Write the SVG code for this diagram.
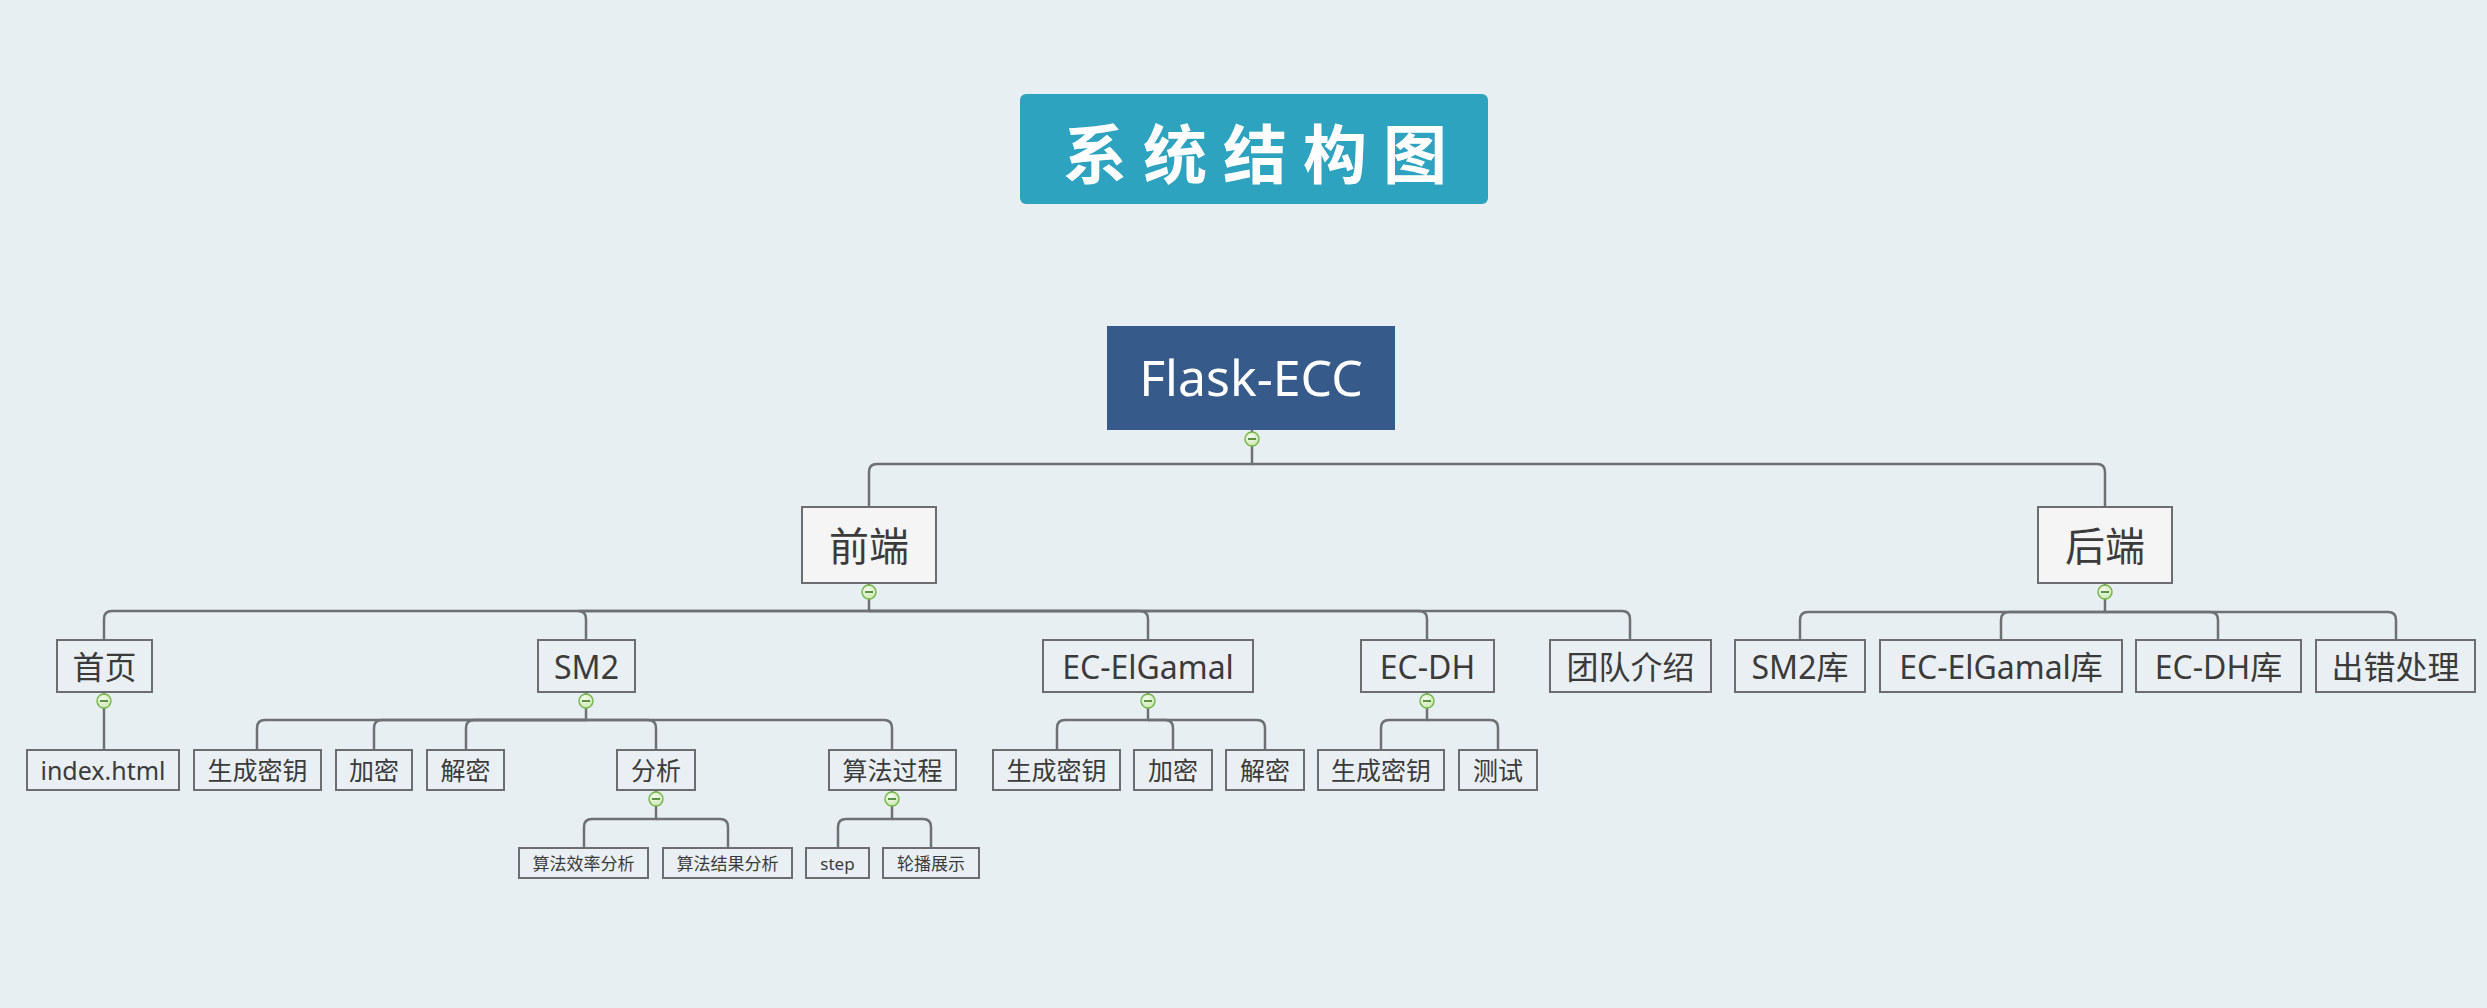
<svg xmlns="http://www.w3.org/2000/svg" width="2487" height="1008" viewBox="0 0 2487 1008">
<defs>
<style>
.bg{fill:#e8eff3}
.n{fill:#e9eff3;stroke:#6b6d70;stroke-width:2}
.n2{fill:#f5f5f5;stroke:#6b6d70;stroke-width:2}
.t{font-family:"Noto Sans","Noto Sans CJK SC",sans-serif;fill:#3b3b3b;text-anchor:middle;dominant-baseline:central}
.f40{font-size:40px}
.f32{font-size:32px}
.f25{font-size:25px}
.f17{font-size:17px}
.c path{fill:none;stroke:#6e7174;stroke-width:2.5}
.tog circle{fill:url(#g);stroke:#74b648;stroke-width:1.4}
.tog line{stroke:#3a7a20;stroke-width:1.6}
</style>
<radialGradient id="g" cx="0.4" cy="0.35" r="0.7">
<stop offset="0" stop-color="#f6fbf0"/>
<stop offset="1" stop-color="#c9e6ad"/>
</radialGradient>
</defs>
<rect class="bg" x="0" y="0" width="2487" height="1008"/>

<g id="title">
<rect x="1020" y="94" width="468" height="110" rx="6" fill="#2ea3bf"/>
<text x="1263" y="150" font-family="Noto Sans CJK SC,sans-serif" font-size="64" font-weight="bold" fill="#ffffff" text-anchor="middle" dominant-baseline="central" letter-spacing="16">系统结构图</text>
</g>

<g id="connectors" class="c">
<path d="M1252,430 V464 H877 Q869,464 869,472 V507"/>
<path d="M1252,464 H2097 Q2105,464 2105,472 V507"/>
<path d="M869,583 V611 H112 Q104,611 104,619 V640"/>
<path d="M869,611 H578 Q586,611 586,619 V640"/>
<path d="M869,611 H1140 Q1148,611 1148,619 V640"/>
<path d="M869,611 H1419 Q1427,611 1427,619 V640"/>
<path d="M869,611 H1622 Q1630,611 1630,619 V640"/>
<path d="M2105,583 V612 H1808 Q1800,612 1800,620 V640"/>
<path d="M2105,612 H2009 Q2001,612 2001,620 V640"/>
<path d="M2105,612 H2210 Q2218,612 2218,620 V640"/>
<path d="M2105,612 H2388 Q2396,612 2396,620 V640"/>
<path d="M104,692 V750"/>
<path d="M586,692 V720 H265 Q257,720 257,728 V750"/>
<path d="M586,720 H382 Q374,720 374,728 V750"/>
<path d="M586,720 H474 Q466,720 466,728 V750"/>
<path d="M586,720 H648 Q656,720 656,728 V750"/>
<path d="M586,720 H884 Q892,720 892,728 V750"/>
<path d="M1148,692 V720 H1065 Q1057,720 1057,728 V750"/>
<path d="M1148,720 H1165 Q1173,720 1173,728 V750"/>
<path d="M1148,720 H1257 Q1265,720 1265,728 V750"/>
<path d="M1427,692 V720 H1389 Q1381,720 1381,728 V750"/>
<path d="M1427,720 H1490 Q1498,720 1498,728 V750"/>
<path d="M656,790 V819 H592 Q584,819 584,827 V848"/>
<path d="M656,819 H720 Q728,819 728,827 V848"/>
<path d="M892,790 V819 H846 Q838,819 838,827 V848"/>
<path d="M892,819 H923 Q931,819 931,827 V848"/>
</g>

<g id="root">
<rect x="1107" y="326" width="288" height="104" fill="#365b8a"/>
<text x="1251" y="377" font-family="Noto Sans,sans-serif" font-size="50" fill="#ffffff" text-anchor="middle" dominant-baseline="central">Flask-ECC</text>
</g>

<g id="qianduan"><rect class="n2" x="802" y="507" width="134" height="76"/><text class="t f40" x="869" y="545">前端</text></g>
<g id="houduan"><rect class="n2" x="2038" y="507" width="134" height="76"/><text class="t f40" x="2105" y="545">后端</text></g>

<g id="shouye"><rect class="n" x="57" y="640" width="95" height="52"/><text class="t f32" x="104.5" y="666">首页</text></g>
<g id="sm2"><rect class="n" x="538" y="640" width="97" height="52"/><text class="t f32" x="586.5" y="666">SM2</text></g>
<g id="elgamal"><rect class="n" x="1043" y="640" width="210" height="52"/><text class="t f32" x="1148" y="666">EC-ElGamal</text></g>
<g id="ecdh"><rect class="n" x="1361" y="640" width="133" height="52"/><text class="t f32" x="1427.5" y="666">EC-DH</text></g>
<g id="team"><rect class="n" x="1550" y="640" width="161" height="52"/><text class="t f32" x="1630.5" y="666">团队介绍</text></g>

<g id="sm2lib"><rect class="n" x="1735" y="640" width="130" height="52"/><text class="t f32" x="1800" y="666">SM2库</text></g>
<g id="elgamallib"><rect class="n" x="1880" y="640" width="242" height="52"/><text class="t f32" x="2001" y="666">EC-ElGamal库</text></g>
<g id="ecdhlib"><rect class="n" x="2136" y="640" width="165" height="52"/><text class="t f32" x="2218.5" y="666">EC-DH库</text></g>
<g id="error"><rect class="n" x="2316" y="640" width="159" height="52"/><text class="t f32" x="2395.5" y="666">出错处理</text></g>

<g id="index"><rect class="n" x="27" y="750" width="152" height="40"/><text class="t f25" x="103" y="770">index.html</text></g>
<g id="sm2-keygen"><rect class="n" x="194" y="750" width="127" height="40"/><text class="t f25" x="257.5" y="770">生成密钥</text></g>
<g id="sm2-enc"><rect class="n" x="336" y="750" width="76" height="40"/><text class="t f25" x="374" y="770">加密</text></g>
<g id="sm2-dec"><rect class="n" x="427" y="750" width="77" height="40"/><text class="t f25" x="465.5" y="770">解密</text></g>
<g id="sm2-analysis"><rect class="n" x="617" y="750" width="78" height="40"/><text class="t f25" x="656" y="770">分析</text></g>
<g id="sm2-process"><rect class="n" x="829" y="750" width="127" height="40"/><text class="t f25" x="892.5" y="770">算法过程</text></g>
<g id="eg-keygen"><rect class="n" x="993" y="750" width="127" height="40"/><text class="t f25" x="1056.5" y="770">生成密钥</text></g>
<g id="eg-enc"><rect class="n" x="1134" y="750" width="78" height="40"/><text class="t f25" x="1173" y="770">加密</text></g>
<g id="eg-dec"><rect class="n" x="1226" y="750" width="78" height="40"/><text class="t f25" x="1265" y="770">解密</text></g>
<g id="dh-keygen"><rect class="n" x="1318" y="750" width="126" height="40"/><text class="t f25" x="1381" y="770">生成密钥</text></g>
<g id="dh-test"><rect class="n" x="1459" y="750" width="78" height="40"/><text class="t f25" x="1498" y="770">测试</text></g>

<g id="eff"><rect class="n" x="519" y="848" width="129" height="30"/><text class="t f17" x="583.5" y="863">算法效率分析</text></g>
<g id="res"><rect class="n" x="663" y="848" width="129" height="30"/><text class="t f17" x="727.5" y="863">算法结果分析</text></g>
<g id="step"><rect class="n" x="806" y="848" width="63" height="30"/><text class="t f17" x="837.5" y="863">step</text></g>
<g id="carousel"><rect class="n" x="883" y="848" width="96" height="30"/><text class="t f17" x="931" y="863">轮播展示</text></g>

<g id="toggles" class="tog">
<circle cx="1252" cy="439" r="7"/><line x1="1248" y1="439" x2="1256" y2="439"/>
<circle cx="869" cy="592" r="7"/><line x1="865" y1="592" x2="873" y2="592"/>
<circle cx="2105" cy="592" r="7"/><line x1="2101" y1="592" x2="2109" y2="592"/>
<circle cx="104" cy="701" r="7"/><line x1="100" y1="701" x2="108" y2="701"/>
<circle cx="586" cy="701" r="7"/><line x1="582" y1="701" x2="590" y2="701"/>
<circle cx="1148" cy="701" r="7"/><line x1="1144" y1="701" x2="1152" y2="701"/>
<circle cx="1427" cy="701" r="7"/><line x1="1423" y1="701" x2="1431" y2="701"/>
<circle cx="656" cy="799" r="7"/><line x1="652" y1="799" x2="660" y2="799"/>
<circle cx="892" cy="799" r="7"/><line x1="888" y1="799" x2="896" y2="799"/>
</g>
</svg>
